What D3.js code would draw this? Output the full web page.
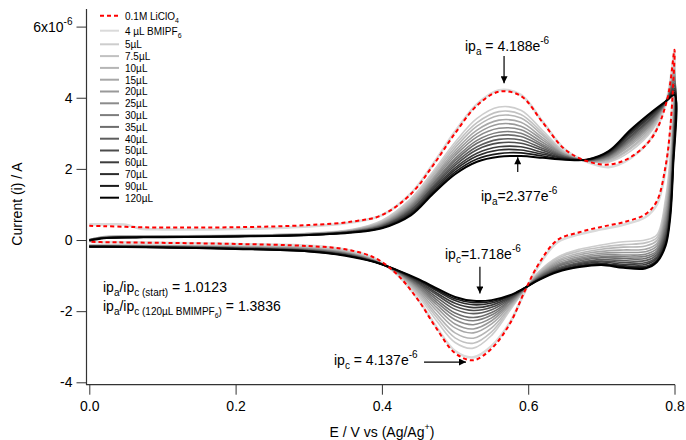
<!DOCTYPE html>
<html><head><meta charset="utf-8">
<script src="https://cdn.jsdelivr.net/npm/d3@7"></script>
<style>
body{margin:0;background:#fff;}
svg text{font-family:"Liberation Sans",Arial,Helvetica,sans-serif;fill:#000;}
</style>
</head><body>
<svg id="chart" width="686" height="440"></svg>
<script>
// ---------------- DATA ----------------
const xTicks = [0.0, 0.2, 0.4, 0.6, 0.8];
const yTicks = [-4, -2, 0, 2, 4, 6];

// forward (anodic) sweep potentials, V
const fwdE = [0, 0.02, 0.05, 0.07, 0.1, 0.2, 0.3, 0.36, 0.4, 0.44, 0.47, 0.5, 0.53, 0.56, 0.59, 0.62, 0.65, 0.68, 0.71, 0.74, 0.77, 0.79, 0.8];
// reverse (cathodic) sweep potentials, V
const revE = [0.798, 0.794, 0.788, 0.776, 0.76, 0.73, 0.70, 0.67, 0.64, 0.615, 0.595, 0.575, 0.55, 0.525, 0.50, 0.475, 0.45, 0.42, 0.39, 0.35, 0.30, 0.20, 0.10, 0.02, 0];

const seriesLabels = ["0.1M LiClO4", "4 µL BMIPF6", "5µL", "7.5µL", "10µL", "15µL", "20µL", "25µL", "30µL", "35µL", "40µL", "50µL", "60µL", "70µL", "90µL", "120µL"];

// currents in units of 1e-6 A
const fwd_LiClO4 = [0.40,0.39,0.37,0.36,0.35,0.36,0.42,0.52,0.70,1.30,2.10,3.00,3.78,4.17,4.05,3.30,2.55,2.22,2.12,2.33,2.90,3.95,5.35];
const rev_LiClO4 = [4.30,3.10,2.10,1.10,0.72,0.50,0.37,0.22,0.00,-0.65,-1.45,-2.35,-3.05,-3.38,-3.18,-2.50,-1.70,-0.95,-0.50,-0.26,-0.17,-0.11,-0.08,-0.06,-0.05];
const fwd_4uL = [0.44,0.44,0.43,0.32,0.30,0.31,0.38,0.50,0.70,1.32,2.14,3.05,3.82,4.21,4.08,3.32,2.55,2.20,2.05,2.30,2.92,4.00,5.30];
const rev_4uL = [4.20,3.00,2.00,1.00,0.64,0.43,0.30,0.16,-0.06,-0.70,-1.47,-2.32,-2.98,-3.30,-3.12,-2.46,-1.68,-0.95,-0.52,-0.27,-0.16,-0.11,-0.08,-0.06,-0.05];
const fwd_5uL = [0.01,0.10,0.12,0.12,0.12,0.13,0.19,0.30,0.55,1.17,1.93,2.75,3.42,3.74,3.65,3.07,2.48,2.22,2.19,2.50,3.10,3.98,5.00];
const rev_5uL = [3.60,2.30,1.20,0.15,0.00,-0.05,-0.14,-0.26,-0.48,-0.88,-1.40,-1.98,-2.68,-3.04,-2.88,-2.28,-1.58,-0.93,-0.55,-0.30,-0.20,-0.17,-0.15,-0.14,-0.14];
const fwd_7_5uL = [0.01,0.09,0.11,0.115,0.12,0.13,0.18,0.29,0.52,1.12,1.87,2.67,3.30,3.61,3.53,3.00,2.46,2.22,2.21,2.56,3.14,3.98,4.91];
const rev_7_5uL = [3.43,2.12,1.06,0.07,-0.08,-0.13,-0.20,-0.31,-0.52,-0.91,-1.40,-1.93,-2.58,-2.90,-2.75,-2.18,-1.53,-0.92,-0.56,-0.31,-0.21,-0.18,-0.16,-0.15,-0.15];
const fwd_10uL = [0.01,0.09,0.11,0.11,0.115,0.125,0.18,0.28,0.50,1.08,1.82,2.59,3.20,3.50,3.43,2.94,2.44,2.22,2.24,2.60,3.19,3.97,4.84];
const rev_10uL = [3.26,1.94,0.92,-0.01,-0.17,-0.20,-0.26,-0.37,-0.57,-0.93,-1.39,-1.89,-2.47,-2.76,-2.61,-2.09,-1.48,-0.91,-0.57,-0.33,-0.23,-0.19,-0.16,-0.15,-0.15];
const fwd_15uL = [0.01,0.08,0.10,0.105,0.11,0.12,0.17,0.27,0.48,1.04,1.76,2.51,3.09,3.37,3.31,2.87,2.42,2.23,2.27,2.66,3.24,3.97,4.75];
const rev_15uL = [3.09,1.76,0.77,-0.10,-0.26,-0.28,-0.32,-0.42,-0.61,-0.96,-1.38,-1.84,-2.36,-2.61,-2.47,-1.99,-1.43,-0.90,-0.57,-0.35,-0.24,-0.20,-0.17,-0.16,-0.16];
const fwd_20uL = [0.01,0.08,0.10,0.10,0.105,0.12,0.17,0.26,0.46,1.00,1.71,2.44,2.99,3.26,3.20,2.81,2.40,2.23,2.29,2.71,3.28,3.96,4.68];
const rev_20uL = [2.94,1.60,0.65,-0.17,-0.33,-0.35,-0.37,-0.47,-0.65,-0.98,-1.38,-1.80,-2.27,-2.50,-2.36,-1.90,-1.38,-0.89,-0.58,-0.36,-0.25,-0.20,-0.17,-0.16,-0.16];
const fwd_25uL = [0.01,0.07,0.09,0.095,0.10,0.115,0.16,0.25,0.44,0.97,1.66,2.37,2.90,3.14,3.10,2.74,2.39,2.23,2.32,2.76,3.32,3.96,4.61];
const rev_25uL = [2.80,1.45,0.53,-0.24,-0.40,-0.42,-0.42,-0.51,-0.69,-1.00,-1.38,-1.77,-2.19,-2.38,-2.24,-1.82,-1.34,-0.89,-0.59,-0.37,-0.26,-0.21,-0.18,-0.17,-0.17];
const fwd_30uL = [0.01,0.07,0.09,0.09,0.095,0.11,0.16,0.25,0.42,0.93,1.61,2.29,2.80,3.03,3.00,2.68,2.37,2.24,2.35,2.80,3.36,3.96,4.53];
const rev_30uL = [2.67,1.31,0.42,-0.30,-0.46,-0.47,-0.47,-0.55,-0.72,-1.02,-1.37,-1.73,-2.11,-2.27,-2.14,-1.75,-1.30,-0.88,-0.59,-0.38,-0.27,-0.22,-0.19,-0.17,-0.17];
const fwd_35uL = [0.0,0.07,0.085,0.09,0.09,0.11,0.155,0.24,0.41,0.90,1.57,2.23,2.72,2.94,2.91,2.63,2.35,2.24,2.37,2.84,3.40,3.95,4.47];
const rev_35uL = [2.56,1.20,0.32,-0.35,-0.52,-0.52,-0.50,-0.59,-0.75,-1.04,-1.37,-1.70,-2.04,-2.18,-2.05,-1.68,-1.27,-0.87,-0.60,-0.39,-0.28,-0.22,-0.19,-0.17,-0.17];
const fwd_40uL = [0.0,0.06,0.08,0.085,0.09,0.105,0.15,0.24,0.39,0.86,1.52,2.16,2.62,2.83,2.81,2.57,2.34,2.24,2.39,2.89,3.44,3.95,4.40];
const rev_40uL = [2.43,1.06,0.21,-0.41,-0.58,-0.58,-0.55,-0.63,-0.79,-1.06,-1.36,-1.67,-1.96,-2.07,-1.95,-1.61,-1.23,-0.86,-0.60,-0.40,-0.29,-0.23,-0.19,-0.18,-0.18];
const fwd_50uL = [0.0,0.06,0.08,0.08,0.085,0.105,0.15,0.23,0.38,0.83,1.48,2.10,2.54,2.73,2.72,2.52,2.32,2.25,2.41,2.93,3.47,3.94,4.34];
const rev_50uL = [2.32,0.94,0.12,-0.47,-0.64,-0.63,-0.59,-0.66,-0.82,-1.07,-1.36,-1.64,-1.89,-1.98,-1.86,-1.54,-1.20,-0.86,-0.61,-0.41,-0.30,-0.23,-0.20,-0.18,-0.18];
const fwd_60uL = [0.0,0.06,0.075,0.08,0.085,0.10,0.145,0.23,0.36,0.79,1.43,2.03,2.44,2.62,2.62,2.46,2.30,2.25,2.44,2.98,3.52,3.94,4.26];
const rev_60uL = [2.22,0.84,0.04,-0.51,-0.69,-0.68,-0.62,-0.69,-0.84,-1.09,-1.36,-1.61,-1.83,-1.90,-1.78,-1.49,-1.17,-0.85,-0.61,-0.42,-0.30,-0.24,-0.20,-0.18,-0.18];
const fwd_70uL = [0.0,0.055,0.075,0.08,0.08,0.10,0.145,0.22,0.35,0.76,1.38,1.97,2.36,2.53,2.53,2.41,2.29,2.25,2.46,3.02,3.55,3.94,4.20];
const rev_70uL = [2.13,0.74,-0.04,-0.56,-0.74,-0.72,-0.66,-0.72,-0.87,-1.10,-1.35,-1.58,-1.77,-1.82,-1.70,-1.43,-1.14,-0.85,-0.61,-0.43,-0.31,-0.24,-0.21,-0.19,-0.19];
const fwd_90uL = [0.0,0.05,0.07,0.075,0.08,0.10,0.14,0.22,0.34,0.73,1.34,1.91,2.28,2.43,2.45,2.36,2.27,2.26,2.48,3.06,3.59,3.93,4.14];
const rev_90uL = [2.06,0.68,-0.09,-0.59,-0.77,-0.75,-0.68,-0.74,-0.88,-1.11,-1.35,-1.57,-1.73,-1.76,-1.65,-1.40,-1.12,-0.84,-0.62,-0.43,-0.32,-0.25,-0.21,-0.19,-0.19];
const fwd_120uL = [-0.02,0.05,0.07,0.075,0.08,0.10,0.14,0.21,0.33,0.70,1.30,1.85,2.20,2.34,2.36,2.31,2.26,2.26,2.50,3.10,3.62,3.93,4.08];
const rev_120uL = [2.00,0.60,-0.15,-0.62,-0.80,-0.78,-0.70,-0.76,-0.90,-1.12,-1.35,-1.55,-1.69,-1.71,-1.60,-1.36,-1.10,-0.84,-0.62,-0.44,-0.32,-0.25,-0.21,-0.19,-0.19];

const fwdSeries = [fwd_LiClO4, fwd_4uL, fwd_5uL, fwd_7_5uL, fwd_10uL, fwd_15uL, fwd_20uL, fwd_25uL, fwd_30uL, fwd_35uL, fwd_40uL, fwd_50uL, fwd_60uL, fwd_70uL, fwd_90uL, fwd_120uL];
const revSeries = [rev_LiClO4, rev_4uL, rev_5uL, rev_7_5uL, rev_10uL, rev_15uL, rev_20uL, rev_25uL, rev_30uL, rev_35uL, rev_40uL, rev_50uL, rev_60uL, rev_70uL, rev_90uL, rev_120uL];

// ---------------- STYLE ----------------
const colors = ["#ff0000","#dadada","#cdcdcd","#c1c1c1","#b5b5b5","#a7a7a7","#999999","#8b8b8b","#7d7d7d","#6d6d6d","#5d5d5d","#4c4c4c","#3c3c3c","#2c2c2c","#1a1a1a","#000000"];

const svg = d3.select("#chart");
const x = d3.scaleLinear().domain([0, 0.8]).range([89.3, 674.5]);
const y = d3.scaleLinear().domain([-4, 6]).range([382.3, 26.6]);
const axisColor = "#333";

// curves
const line = d3.line().x(d => x(d[0])).y(d => y(d[1])).curve(d3.curveCatmullRom.alpha(0.5));
const curves = seriesLabels.map((name, i) => ({
  name, color: colors[i],
  pts: fwdE.map((e, k) => [e, fwdSeries[i][k]]).concat(revE.map((e, k) => [e, revSeries[i][k]]))
}));
const drawOrder = d3.range(1, curves.length).concat([0]);
const gCurves = svg.append("g");
drawOrder.forEach(i => {
  const c = curves[i];
  gCurves.append("path").attr("d", line(c.pts))
    .attr("fill", "none").attr("stroke", c.color)
    .attr("stroke-width", i === 0 ? 2 : (i === 1 ? 2.6 : (i === 15 ? 2 : 1.6)))
    .attr("stroke-dasharray", i === 0 ? "4,3" : null)
    .attr("stroke-linejoin", "round");
});

// axes
const yAxis = d3.axisLeft(y).tickValues(yTicks).tickSize(10).tickPadding(4).tickFormat(d => d === 6 ? "6x10" : String(d));
const gy = svg.append("g").attr("transform", "translate(86.5,0)").call(yAxis);
gy.select(".domain").remove();
gy.selectAll("line").attr("stroke", axisColor);
gy.selectAll("text").attr("font-size", 14).attr("font-family", '"Liberation Sans",Arial,sans-serif').attr("fill", "#000");
gy.selectAll(".tick").filter(d => d === 6).select("text")
  .append("tspan").attr("font-size", 10).attr("dy", "-7").text("-6");
svg.append("line").attr("x1", 86.5).attr("x2", 86.5).attr("y1", 9).attr("y2", 385).attr("stroke", axisColor).attr("stroke-width", 1.2);

const xAxis = d3.axisBottom(x).tickValues(xTicks).tickSize(10).tickPadding(6).tickFormat(d3.format(".1f"));
const gx = svg.append("g").attr("transform", "translate(0,384.7)").call(xAxis);
gx.select(".domain").remove();
gx.selectAll("line").attr("stroke", axisColor);
gx.selectAll("text").attr("font-size", 14).attr("font-family", '"Liberation Sans",Arial,sans-serif').attr("fill", "#000");
svg.append("line").attr("x1", 86).attr("x2", 675).attr("y1", 384.7).attr("y2", 384.7).attr("stroke", axisColor).attr("stroke-width", 1.2);

// axis titles
const xt = svg.append("text").attr("x", 382).attr("y", 437).attr("text-anchor", "middle").attr("font-size", 14).text("E / V vs (Ag/Ag");
xt.append("tspan").attr("font-size", 9).attr("dy", -7).text("+");
xt.append("tspan").attr("dy", 7).text(")");
svg.append("text").attr("transform", "translate(22,204) rotate(-90)").attr("text-anchor", "middle").attr("font-size", 14).text("Current (i) / A");

// legend
const gl = svg.append("g");
seriesLabels.forEach((name, i) => {
  const ly = i === 0 ? 15.7 : (i === 1 ? 30.7 : 44.3 + (i - 2) * 11.8);
  gl.append("line").attr("x1", 100).attr("x2", 119).attr("y1", ly).attr("y2", ly)
    .attr("stroke", colors[i]).attr("stroke-width", 2).attr("stroke-dasharray", i === 0 ? "4,3" : null);
  const t = gl.append("text").attr("x", 125).attr("y", ly + 3.8).attr("font-size", 10);
  if (i === 0) { t.text("0.1M LiClO"); t.append("tspan").attr("font-size", 7).attr("dy", 3).text("4"); }
  else if (i === 1) { t.text("4 µL BMIPF"); t.append("tspan").attr("font-size", 7).attr("dy", 3).text("6"); }
  else t.text(name);
});

// annotations
function ipText(px, py, sub, rest, sup) {
  const t = svg.append("text").attr("x", px).attr("y", py).attr("font-size", 14);
  t.append("tspan").text("ip");
  t.append("tspan").attr("font-size", 10).attr("dy", 4).text(sub);
  t.append("tspan").attr("dy", -4).text(rest);
  t.append("tspan").attr("font-size", 10).attr("dy", -7).text(sup);
  return t;
}
ipText(465, 51, "a", " = 4.188e", "-6");
ipText(481, 201, "a", "=2.377e", "-6");
ipText(445, 259, "c", "=1.718e", "-6");
ipText(334, 365, "c", " = 4.137e", "-6");

function ratioText(px, py, paren) {
  const t = svg.append("text").attr("x", px).attr("y", py).attr("font-size", 14);
  t.append("tspan").text("ip");
  t.append("tspan").attr("font-size", 10).attr("dy", 4).text("a");
  t.append("tspan").attr("dy", -4).text("/ip");
  t.append("tspan").attr("font-size", 10).attr("dy", 4).text("c");
  paren(t);
  return t;
}
ratioText(103, 292, t => {
  t.append("tspan").attr("font-size", 10).text(" (start)");
  t.append("tspan").attr("dy", -4).text(" = 1.0123");
});
ratioText(103, 311, t => {
  t.append("tspan").attr("font-size", 10).text(" (120µL BMIMPF");
  t.append("tspan").attr("font-size", 7).attr("dy", 3).text("6");
  t.append("tspan").attr("font-size", 10).attr("dy", -3).text(")");
  t.append("tspan").attr("dy", -4).text(" = 1.3836");
});

// arrows
svg.append("defs").append("marker").attr("id", "ah").attr("viewBox", "0 0 10 10")
  .attr("refX", 10).attr("refY", 5).attr("markerWidth", 10).attr("markerHeight", 7)
  .attr("markerUnits", "userSpaceOnUse").attr("orient", "auto")
  .append("path").attr("d", "M0,0L10,5L0,10z").attr("fill", "#000");
function arrow(x1, y1, x2, y2) {
  svg.append("line").attr("x1", x1).attr("y1", y1).attr("x2", x2).attr("y2", y2)
    .attr("stroke", "#000").attr("stroke-width", 1.2).attr("marker-end", "url(#ah)");
}
arrow(x(0.567), y(5.17), x(0.567), y(4.41));
arrow(x(0.5857), y(1.91), x(0.5857), y(2.33));
arrow(x(0.534), y(-0.75), x(0.534), y(-1.50));
arrow(x(0.4576), y(-3.43), x(0.515), y(-3.43));
</script>
</body></html>
